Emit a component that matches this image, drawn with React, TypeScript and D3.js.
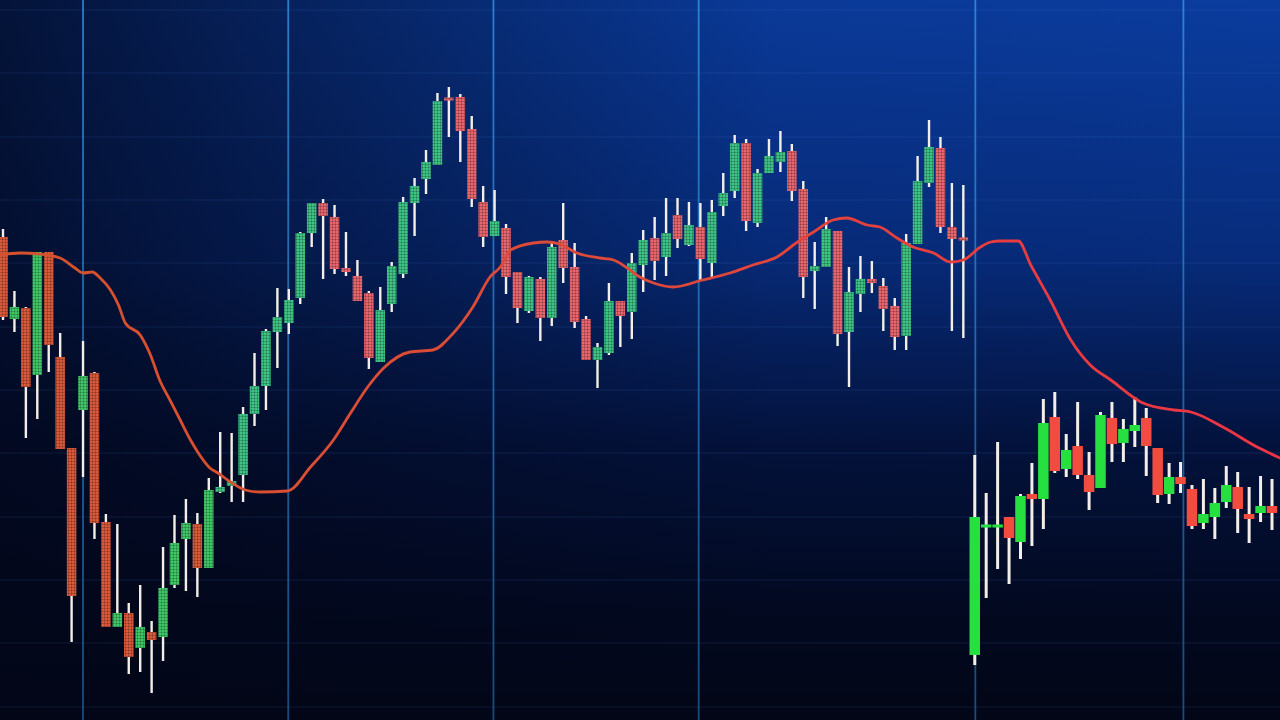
import React from 'react';
import * as d3 from 'd3';

// Candle data (arbitrary price units), index = time step
const opens = [1483,1401,1412,1345,1468,1363,1272,1310,1347,1198,
  1093,1107,1072,1088,1083,1135,1181,1196,1152,1228,
  1234,1245,1306,1334,1388,1397,1422,1487,1517,1503,
  1452,1444,1427,1358,1416,1446,1517,1541,1555,1622,
  1623,1591,1518,1484,1492,1448,1409,1441,1402,1480,
  1453,1401,1360,1367,1419,1408,1455,1482,1463,1505,
  1475,1493,1457,1514,1529,1577,1497,1547,1558,1569,
  1531,1449,1453,1489,1388,1426,1441,1434,1414,1384,
  1476,1537,1572,1493,1482,
  1065,1193,1193,1203,1178,
  1226,1221,1303,1251,1274,1245,1232,1302,1277,1289,
  1302,1272,1226,1243,1231,1197,1203,1218,1233,1206,
  1207,1214];
const closes = [1403,1413,1333,1468,1375,1271,1124,1344,1197,1093,
  1107,1063,1093,1080,1132,1177,1197,1152,1230,1233,
  1239,1306,1334,1389,1403,1420,1487,1517,1504,1451,
  1448,1419,1362,1410,1454,1518,1534,1558,1619,1620,
  1589,1521,1483,1499,1443,1412,1443,1402,1473,1452,
  1398,1360,1373,1419,1404,1457,1480,1459,1487,1481,
  1495,1461,1508,1527,1577,1499,1547,1564,1568,1529,
  1443,1454,1491,1386,1428,1441,1437,1411,1383,1477,
  1539,1573,1493,1481,1480,
  1203,1195,1195,1182,1224,
  1221,1297,1249,1270,1245,1228,1305,1276,1291,1295,
  1274,1225,1243,1236,1194,1206,1217,1235,1211,1201,
  1214,1207];
const highs = [1491,1429,1413,1468,1468,1387,1272,1379,1348,1206,
  1196,1117,1135,1099,1173,1205,1221,1207,1242,1288,
  1287,1313,1367,1391,1432,1431,1488,1517,1521,1515,
  1488,1460,1429,1433,1458,1523,1542,1570,1627,1633,
  1626,1604,1534,1530,1496,1448,1444,1443,1477,1517,
  1477,1404,1377,1437,1419,1467,1490,1503,1522,1522,
  1518,1517,1520,1547,1585,1581,1551,1581,1589,1576,
  1539,1478,1503,1489,1453,1464,1459,1442,1422,1486,
  1564,1600,1583,1537,1535,
  1265,1227,1278,1203,1226,
  1257,1321,1328,1286,1318,1268,1308,1318,1301,1323,
  1312,1272,1257,1258,1235,1241,1232,1254,1248,1233,
  1244,1241];
const lows = [1400,1388,1282,1301,1348,1271,1078,1243,1181,1093,
  1093,1046,1048,1027,1059,1132,1129,1123,1152,1227,
  1218,1218,1294,1310,1352,1386,1416,1473,1441,1446,
  1444,1419,1351,1358,1408,1442,1484,1526,1555,1583,
  1558,1513,1473,1484,1426,1397,1407,1379,1394,1437,
  1392,1360,1332,1365,1373,1381,1428,1440,1444,1472,
  1474,1440,1443,1504,1522,1489,1493,1547,1548,1519,
  1422,1411,1453,1374,1333,1408,1427,1389,1370,1370,
  1476,1533,1487,1389,1382,
  1055,1122,1151,1136,1161,
  1174,1191,1247,1243,1241,1210,1232,1258,1258,1273,
  1244,1217,1216,1227,1191,1191,1181,1212,1187,1177,
  1198,1190];

// Moving average line: time positions and values
const maT = [-0.3,1.5,3.2,5.0,6.3,7.0,7.8,8.5,9.4,10.1,
  10.7,12.0,12.9,13.7,14.6,15.5,16.4,17.2,18.1,18.8,
  19.9,21.2,22.5,24.9,26.9,28.9,30.4,31.9,33.3,35.6,
  37.6,39.4,41.1,42.6,43.5,44.4,46.4,47.6,48.7,50.2,
  52.2,53.4,54.6,55.7,56.9,58.6,61.2,63.6,65.6,67.7,
  69.5,70.9,72.6,73.8,75.6,76.7,78.2,79.6,81.4,82.9,
  84.0,85.5,86.4,87.2,88.8,89.9,91.6,93.4,95.1,96.9,
  99.7,102.4,103.9,106.7,109.7,111.7];
const maP = [1465,1467,1466,1462,1452,1447,1448,1442,1430,1415,
  1397,1385,1365,1340,1320,1300,1280,1265,1252,1247,
  1238,1230,1228,1229,1253,1280,1307,1333,1352,1368,
  1370,1387,1413,1443,1453,1470,1477,1478,1476,1467,
  1462,1460,1452,1443,1437,1433,1440,1447,1455,1463,
  1478,1488,1500,1502,1495,1493,1482,1473,1467,1458,
  1460,1473,1478,1479,1479,1455,1420,1380,1355,1340,
  1317,1310,1308,1293,1273,1262];

// Grid positions
const gridTimes = [7.0, 24.95, 42.9, 60.85, 85.05, 103.25];
const gridPrices = [1710, 1647, 1583, 1520, 1457, 1393, 1330, 1267, 1203, 1140, 1077, 1013];

const W = 1280, H = 720;

const palettes = [
  { up: '#40c868', down: '#dc5a3c', bw: 9.5, ww: 2.4 },
  { up: '#3ec484', down: '#ea666e', bw: 9.5, ww: 2.4 },
  { up: '#26e040', down: '#f24b40', bw: 10.5, ww: 3 },
];
const segOf = (i: number) => (i <= 18 ? 0 : i <= 84 ? 1 : 2);

export default function App() {
  const x = d3.scaleLinear().domain([0, 111]).range([3, 1272]);
  const y = d3.scaleLinear().domain([1000, 1720]).range([H, 0]);

  const maPts: [number, number][] = maT.map((t, i) => [t, maP[i]]);
  const line = d3.line<[number, number]>()
    .x(d => x(d[0]))
    .y(d => y(d[1]))
    .curve(d3.curveMonotoneX);

  return (
    <svg width={W} height={H} viewBox={`0 0 ${W} ${H}`}
      style={{ position: 'absolute', left: 0, top: 0, display: 'block' }}>
      <defs>
        <linearGradient id="bgV" x1="0" y1="0" x2="0" y2="1">
          <stop offset="0" stopColor="#0a3c9e" />
          <stop offset="0.35" stopColor="#072c7c" />
          <stop offset="0.62" stopColor="#03123c" />
          <stop offset="0.85" stopColor="#020920" />
          <stop offset="1" stopColor="#020616" />
        </linearGradient>
        <linearGradient id="bgH" x1="0" y1="0" x2="1" y2="0">
          <stop offset="0" stopColor="#020618" stopOpacity="0.76" />
          <stop offset="0.3" stopColor="#020618" stopOpacity="0.4" />
          <stop offset="0.6" stopColor="#020618" stopOpacity="0.05" />
          <stop offset="1" stopColor="#020618" stopOpacity="0" />
        </linearGradient>
        <linearGradient id="vGrid" x1="0" y1="0" x2="0" y2={H} gradientUnits="userSpaceOnUse">
          <stop offset="0" stopColor="#3494e4" />
          <stop offset="0.5" stopColor="#2678c0" />
          <stop offset="1" stopColor="#1c5c98" />
        </linearGradient>
        <linearGradient id="maGrad" x1="0" y1="0" x2={W} y2="0" gradientUnits="userSpaceOnUse">
          <stop offset="0" stopColor="#d5522c" />
          <stop offset="0.45" stopColor="#de4a38" />
          <stop offset="1" stopColor="#ee3444" />
        </linearGradient>
        <pattern id="led" width="3" height="3" patternUnits="userSpaceOnUse">
          <rect x="2" y="0" width="1" height="3" fill="#000" fillOpacity="0.2" />
          <rect x="0" y="2" width="3" height="1" fill="#000" fillOpacity="0.2" />
        </pattern>
      </defs>

      <rect x={0} y={0} width={W} height={H} fill="url(#bgV)" />
      <rect x={0} y={0} width={W} height={H} fill="url(#bgH)" />

      {gridPrices.map((p, i) => (
        <line key={'h' + i} x1={0} x2={W} y1={y(p)} y2={y(p)}
          stroke="#4a88e0" strokeOpacity={0.1} strokeWidth={1.5} />
      ))}
      {gridTimes.map((t, i) => (
        <line key={'v' + i} x1={x(t)} x2={x(t)} y1={0} y2={H}
          stroke="url(#vGrid)" strokeOpacity={0.8} strokeWidth={1.8} />
      ))}

      {opens.map((o, i) => {
        const c = closes[i];
        const pal = palettes[segOf(i)];
        const up = c >= o;
        const cx = x(i);
        const top = y(Math.max(o, c));
        const bot = y(Math.min(o, c));
        const h = Math.max(bot - top, 3);
        const yy = bot - top < 3 ? (top + bot) / 2 - 1.5 : top;
        const seg = segOf(i);
        return (
          <g key={'c' + i}>
            <line x1={cx} x2={cx} y1={y(highs[i])} y2={y(lows[i])}
              stroke="#f3efe8" strokeWidth={pal.ww} />
            <rect x={cx - pal.bw / 2} y={yy} width={pal.bw} height={h}
              fill={up ? pal.up : pal.down} />
            {seg < 2 && (
              <rect x={cx - pal.bw / 2} y={yy} width={pal.bw} height={h} fill="url(#led)" />
            )}
          </g>
        );
      })}

      <path d={line(maPts) || ''} fill="none" stroke="url(#maGrad)" strokeWidth={2.8}
        strokeLinejoin="round" strokeLinecap="round" />
    </svg>
  );
}
